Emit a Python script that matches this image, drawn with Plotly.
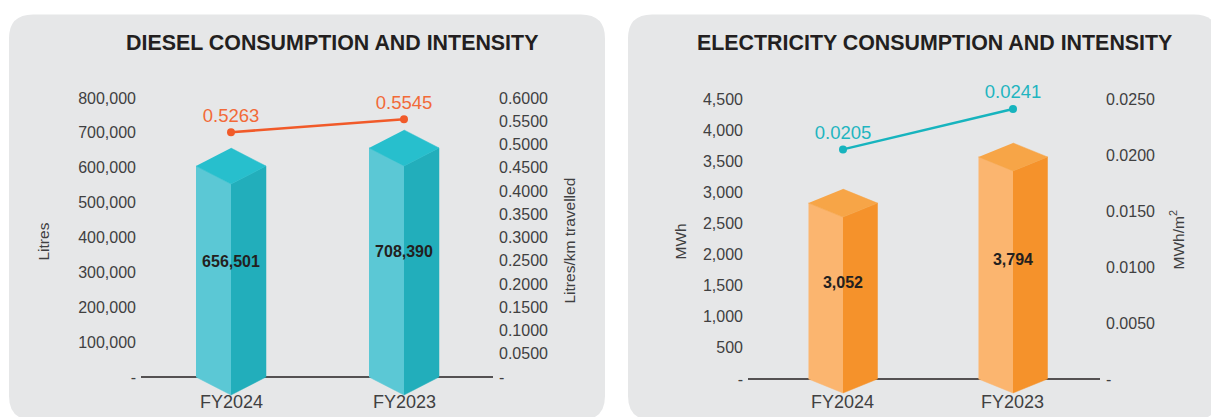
import plotly.graph_objects as go

# ---------------- data ----------------
years = ["FY2024", "FY2023"]

diesel_litres = [656501, 708390]
diesel_intensity = [0.5263, 0.5545]          # litres per km travelled
diesel_left_ticks = [0, 100000, 200000, 300000, 400000, 500000, 600000, 700000, 800000]
diesel_right_ticks = [0, 0.05, 0.10, 0.15, 0.20, 0.25, 0.30, 0.35, 0.40, 0.45, 0.50, 0.55, 0.60]

elec_mwh = [3052, 3794]
elec_intensity = [0.0205, 0.0241]             # MWh per m2
elec_left_ticks = [0, 500, 1000, 1500, 2000, 2500, 3000, 3500, 4000, 4500]
elec_right_ticks = [0, 0.005, 0.010, 0.015, 0.020, 0.025]

# ---------------- page geometry (pixels) ----------------
W, H = 1211, 417
FONT = "Liberation Sans, Arial, Helvetica, sans-serif"
TEXT_DARK = "#231f20"
TICK_GREY = "#404041"
PANEL_GREY = "#e6e7e8"


def fx(px):
    return px / W


def fy(py):
    return 1 - py / H


# plot area top / bottom shared by both panels
PLOT_TOP, PLOT_BOTTOM = 62, 398

panels = [
    dict(
        name="diesel",
        title="DIESEL CONSUMPTION AND INTENSITY", title_x=331.5,
        left_title="Litres", left_title_x=43,
        right_title="Litres/km travelled", right_title_x=569,
        x_left=141, x_right=493, centers=(231, 404),
        base_px=377, top_px=98,
        left_max=800000, right_max=0.60,
        values=diesel_litres, intensity=diesel_intensity,
        left_ticks=diesel_left_ticks, right_ticks=diesel_right_ticks,
        left_fmt=lambda v: f"{v:,}", right_fmt=lambda v: f"{v:.4f}",
        val_fmt=lambda v: f"{v:,}", int_fmt=lambda v: f"{v:.4f}",
        face_left="#5bc8d5", face_right="#22aebb", face_top="#27bfcd",
        line_color="#f15a29", label_color="#f26a38",
        half_w_px=35, cap_px=18,
    ),
    dict(
        name="elec",
        title="ELECTRICITY CONSUMPTION AND INTENSITY", title_x=934.5,
        left_title="MWh", left_title_x=680,
        right_title="MWh/m<sup>2</sup>", right_title_x=1177,
        x_left=748, x_right=1100, centers=(843, 1013),
        base_px=379, top_px=99,
        left_max=4500, right_max=0.025,
        values=elec_mwh, intensity=elec_intensity,
        left_ticks=elec_left_ticks, right_ticks=elec_right_ticks,
        left_fmt=lambda v: f"{v:,}", right_fmt=lambda v: f"{v:.4f}",
        val_fmt=lambda v: f"{v:,}", int_fmt=lambda v: f"{v:.4f}",
        face_left="#fbb56f", face_right="#f5922b", face_top="#f7a547",
        line_color="#17b4be", label_color="#1fb5c0",
        half_w_px=34.5, cap_px=14,
    ),
]

fig = go.Figure()
shapes = []
annotations = []


def rounded_rect(x0, y0, x1, y1, r):
    """SVG path (paper coords) for a rounded rectangle given in pixels."""
    rx, ry = r / W, r / H
    X0, X1 = fx(x0), fx(x1)
    Y0, Y1 = fy(y0), fy(y1)   # Y0 top, Y1 bottom
    return (
        f"M{X0 + rx},{Y0} L{X1 - rx},{Y0} Q{X1},{Y0} {X1},{Y0 - ry} "
        f"L{X1},{Y1 + ry} Q{X1},{Y1} {X1 - rx},{Y1} "
        f"L{X0 + rx},{Y1} Q{X0},{Y1} {X0},{Y1 + ry} "
        f"L{X0},{Y0 - ry} Q{X0},{Y0} {X0 + rx},{Y0} Z"
    )


# grey rounded panels
for x0, x1 in [(9, 605), (628, 1218)]:
    shapes.append(dict(type="path", xref="paper", yref="paper",
                       path=rounded_rect(x0, 14.5, x1, 420, 24),
                       fillcolor=PANEL_GREY, line=dict(width=0), layer="below"))

layout_axes = {}
for i, p in enumerate(panels):
    xa = "x" if i == 0 else "x2"
    ya_l = "y" if i == 0 else "y3"
    ya_r = "y2" if i == 0 else "y4"
    xa_key = "xaxis" if i == 0 else "xaxis2"
    yl_key = "yaxis" if i == 0 else "yaxis3"
    yr_key = "yaxis2" if i == 0 else "yaxis4"

    c0, c1 = p["centers"]
    ppu = c1 - c0                       # pixels per category step
    xr = [(p["x_left"] - c0) / ppu, 1 + (p["x_right"] - c1) / ppu]

    span = p["base_px"] - p["top_px"]
    sl = p["left_max"] / span            # left-axis units per pixel
    sr = p["right_max"] / span           # right-axis units per pixel
    yl_range = [-(PLOT_BOTTOM - p["base_px"]) * sl, p["left_max"] + (p["top_px"] - PLOT_TOP) * sl]
    yr_range = [-(PLOT_BOTTOM - p["base_px"]) * sr, p["right_max"] + (p["top_px"] - PLOT_TOP) * sr]

    dom_x = [fx(p["x_left"]), fx(p["x_right"])]
    dom_y = [fy(PLOT_BOTTOM), fy(PLOT_TOP)]
    tick_font = dict(family=FONT, size=16, color=TICK_GREY)

    layout_axes[xa_key] = dict(domain=dom_x, range=xr, showgrid=False, zeroline=False,
                               showline=False, showticklabels=False, fixedrange=True,
                               anchor=ya_l)
    layout_axes[yl_key] = dict(domain=dom_y, range=yl_range, anchor=xa,
                               tickvals=p["left_ticks"],
                               ticktext=["-" if v == 0 else p["left_fmt"](v) for v in p["left_ticks"]],
                               showgrid=False, zeroline=False, showline=False, ticks="",
                               tickfont=tick_font, ticklabelstandoff=4)
    layout_axes[yr_key] = dict(domain=dom_y, range=yr_range, anchor=xa, overlaying=ya_l,
                               side="right",
                               tickvals=p["right_ticks"],
                               ticktext=["-" if v == 0 else p["right_fmt"](v) for v in p["right_ticks"]],
                               showgrid=False, zeroline=False, showline=False, ticks="",
                               tickfont=tick_font, ticklabelstandoff=5)

    # baseline under the bars
    shapes.append(dict(type="line", xref=f"{xa} domain", yref=ya_l, x0=0, x1=1, y0=0, y1=0,
                       line=dict(color=TEXT_DARK, width=1.6), layer="below"))

    # 3D prism bars
    hw = p["half_w_px"] / ppu
    d = p["cap_px"] * sl
    for k, v in enumerate(p["values"]):
        c = k
        faces = [
            ([c - hw, c, c, c - hw], [0, -d, v - 2 * d, v - d], p["face_left"]),
            ([c, c + hw, c + hw, c], [-d, 0, v - d, v - 2 * d], p["face_right"]),
            ([c - hw, c, c + hw, c], [v - d, v - 2 * d, v - d, v], p["face_top"]),
        ]
        for xs, ys, col in faces:
            fig.add_trace(go.Scatter(x=xs, y=ys, xaxis=xa, yaxis=ya_l, mode="lines",
                                     fill="toself", fillcolor=col, line=dict(width=0.5, color=col),
                                     hoverinfo="skip", showlegend=False))

    # value labels inside the bars
    fig.add_trace(go.Scatter(x=[0, 1], y=[v / 2 for v in p["values"]], xaxis=xa, yaxis=ya_l,
                             mode="text", text=[p["val_fmt"](v) for v in p["values"]],
                             textposition="middle center",
                             textfont=dict(family=FONT, size=16, color=TEXT_DARK, weight="bold"),
                             hoverinfo="skip", showlegend=False, cliponaxis=False))

    # intensity line
    fig.add_trace(go.Scatter(x=[0, 1], y=p["intensity"], xaxis=xa, yaxis=ya_r,
                             mode="lines+markers+text",
                             text=[p["int_fmt"](v) for v in p["intensity"]],
                             textposition="top center",
                             textfont=dict(family=FONT, size=18.5, color=p["label_color"]),
                             line=dict(color=p["line_color"], width=2.5),
                             marker=dict(color=p["line_color"], size=8),
                             hoverinfo="skip", showlegend=False, cliponaxis=False))

    # category labels under the bars
    for k, yr in enumerate(years):
        annotations.append(dict(x=k, y=fy(401.5), xref=xa, yref="paper", text=yr,
                                showarrow=False, xanchor="center", yanchor="middle",
                                font=dict(family=FONT, size=18, color=TICK_GREY)))

    # panel title
    annotations.append(dict(x=fx(p["title_x"]), y=fy(42.5), xref="paper", yref="paper",
                            text=f"<b>{p['title']}</b>", showarrow=False,
                            xanchor="center", yanchor="middle",
                            font=dict(family=FONT, size=21.4, color=TEXT_DARK)))
    # axis titles
    annotations.append(dict(x=fx(p["left_title_x"]), y=fy(241.5), xref="paper", yref="paper",
                            text=p["left_title"], textangle=-90, showarrow=False,
                            xanchor="center", yanchor="middle",
                            font=dict(family=FONT, size=15.5, color=TICK_GREY)))
    annotations.append(dict(x=fx(p["right_title_x"]), y=fy(240.5), xref="paper", yref="paper",
                            text=p["right_title"], textangle=-90, showarrow=False,
                            xanchor="center", yanchor="middle",
                            font=dict(family=FONT, size=15.5, color=TICK_GREY)))

fig.update_layout(
    width=W, height=H,
    margin=dict(l=0, r=0, t=0, b=0),
    paper_bgcolor="white",
    plot_bgcolor="rgba(0,0,0,0)",
    shapes=shapes,
    annotations=annotations,
    showlegend=False,
    font=dict(family=FONT),
    **layout_axes,
)

fig.write_html("out.html", config=dict(displayModeBar=False))
